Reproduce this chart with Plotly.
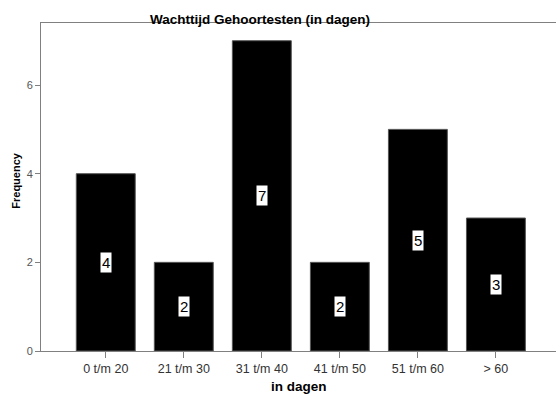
import plotly.graph_objects as go

categories = ["0 t/m 20", "21 t/m 30", "31 t/m 40", "41 t/m 50", "51 t/m 60", "> 60"]
frequency = [4, 2, 7, 2, 5, 3]
y_ticks = [0, 2, 4, 6]

FONT = "Arial, Liberation Sans"

fig = go.Figure()
fig.add_trace(go.Bar(
    x=categories, y=frequency,
    marker=dict(color="black", line=dict(color="#555555", width=1)),
    width=0.755, hoverinfo="skip",
))

for c, v in zip(categories, frequency):
    fig.add_annotation(x=c, y=v / 2, text=str(v), showarrow=False,
                       font=dict(family=FONT, size=15, color="black"),
                       bgcolor="white", borderpad=1, xref="x", yref="y")

fig.add_annotation(text="<b>Wachttijd Gehoortesten (in dagen)</b>", x=0.425, y=1.0,
                   xref="paper", yref="paper", xanchor="center", yanchor="bottom",
                   yshift=-6, showarrow=False,
                   font=dict(family=FONT, size=13.5, color="black"))
fig.add_annotation(text="<b>Frequency</b>", x=-0.048, y=0.52, xref="paper", yref="paper",
                   textangle=-90, showarrow=False, xanchor="center", yanchor="middle",
                   font=dict(family=FONT, size=11, color="black"))
fig.add_annotation(text="<b>in dagen</b>", x=0.5, y=-0.107, xref="paper", yref="paper",
                   showarrow=False, xanchor="center", yanchor="middle",
                   font=dict(family=FONT, size=13.5, color="black"))

fig.update_layout(
    width=556, height=400,
    margin=dict(l=41, r=0, t=23, b=49),
    plot_bgcolor="white", paper_bgcolor="white",
    showlegend=False,
    xaxis=dict(range=[-0.83, 5.77], showline=True, linecolor="#808080", linewidth=1,
               mirror=True, ticks="outside", ticklen=6, tickcolor="#808080",
               showgrid=False, tickfont=dict(family=FONT, size=12.5, color="#333333")),
    yaxis=dict(range=[0, 7.4], tickvals=y_ticks, showline=True, linecolor="#808080", linewidth=1,
               ticks="outside", ticklen=5, tickcolor="#808080", showgrid=False, zeroline=False,
               tickfont=dict(family=FONT, size=11, color="#555555")),
)

fig.write_html("out.html")
